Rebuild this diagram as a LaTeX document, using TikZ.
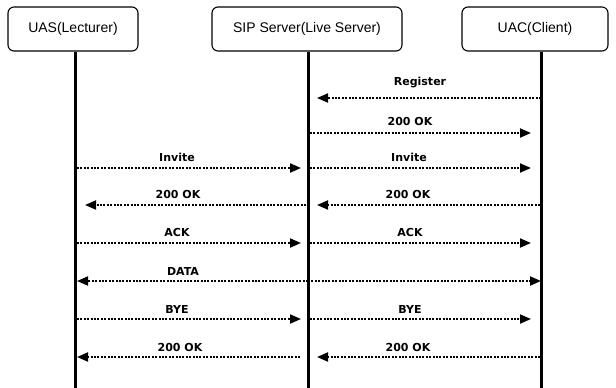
\documentclass[tikz,border=0pt]{standalone}
\usepackage{fontspec}
\setmainfont{Liberation Sans}
\newfontfamily\msgfont{DejaVu Sans}
\usetikzlibrary{arrows.meta}
\begin{document}
\begin{tikzpicture}[x=1pt,y=-1pt,
  actor/.style={draw,rounded corners=6pt,line width=1.1pt,minimum height=44pt,inner sep=0pt,font=\fontsize{14}{16}\selectfont},
  life/.style={line width=3pt},
  msg/.style={line width=2pt,dash pattern=on 2pt off 1.4pt,-{Triangle[length=11pt,width=9pt]}},
  lbl/.style={font=\msgfont\bfseries\fontsize{11}{12}\selectfont,inner sep=0pt}]
\useasboundingbox (0,0) rectangle (616,388);
\node[actor,minimum width=130pt] (uas) at (73,29) {UAS(Lecturer)};
\node[actor,minimum width=190pt] (sip) at (307,29) {SIP Server(Live Server)};
\node[actor,minimum width=146pt] (uac) at (535,29) {UAC(Client)};
\coordinate (uasE) at (75,388);
\coordinate (sipE) at (308,388);
\coordinate (uacE) at (541,388);
\draw[life] (uas.south -| uasE) -- (uasE);
\draw[life] (sip.south -| sipE) -- (sipE);
\draw[life] (uac.south -| uacE) -- (uacE);
% Register
\coordinate (r1a) at (541,98); \coordinate (r1b) at (317,98);
\draw[msg] (r1a) -- (r1b);
\node[lbl] (lr1) at (420,83) {Register};
% 200 OK
\coordinate (r2a) at (310,133); \coordinate (r2b) at (531,133);
\draw[msg] (r2a) -- (r2b);
\node[lbl] (lr2) at (410,121) {200 OK};
% Invite
\coordinate (r3a) at (77,168); \coordinate (r3b) at (301,168);
\coordinate (r3c) at (310,168); \coordinate (r3d) at (531,168);
\draw[msg] (r3a) -- (r3b);
\draw[msg] (r3c) -- (r3d);
\node[lbl] (lr3a) at (177,157) {Invite};
\node[lbl] (lr3b) at (409,157) {Invite};
% 200 OK
\coordinate (r4a) at (306,205); \coordinate (r4b) at (85,205);
\coordinate (r4c) at (540,205); \coordinate (r4d) at (317,205);
\draw[msg] (r4a) -- (r4b);
\draw[msg] (r4c) -- (r4d);
\node[lbl] (lr4a) at (178,194) {200 OK};
\node[lbl] (lr4b) at (408,194) {200 OK};
% ACK
\coordinate (r5a) at (77,243); \coordinate (r5b) at (301,243);
\coordinate (r5c) at (310,243); \coordinate (r5d) at (531,243);
\draw[msg] (r5a) -- (r5b);
\draw[msg] (r5c) -- (r5d);
\node[lbl] (lr5a) at (177,232) {ACK};
\node[lbl] (lr5b) at (410,232) {ACK};
% DATA
\coordinate (r6a) at (308,281); \coordinate (r6b) at (77,281);
\coordinate (r6c) at (308,281); \coordinate (r6d) at (541,281);
\draw[msg] (r6a) -- (r6b);
\draw[msg] (r6c) -- (r6d);
\node[lbl] (lr6) at (183,271) {DATA};
% BYE
\coordinate (r7a) at (77,319); \coordinate (r7b) at (301,319);
\coordinate (r7c) at (310,319); \coordinate (r7d) at (531,319);
\draw[msg] (r7a) -- (r7b);
\draw[msg] (r7c) -- (r7d);
\node[lbl] (lr7a) at (177,309) {BYE};
\node[lbl] (lr7b) at (410,309) {BYE};
% 200 OK
\coordinate (r8a) at (300,357); \coordinate (r8b) at (77,357);
\coordinate (r8c) at (540,357); \coordinate (r8d) at (317,357);
\draw[msg] (r8a) -- (r8b);
\draw[msg] (r8c) -- (r8d);
\node[lbl] (lr8a) at (180,347) {200 OK};
\node[lbl] (lr8b) at (408,347) {200 OK};
\end{tikzpicture}
\end{document}
